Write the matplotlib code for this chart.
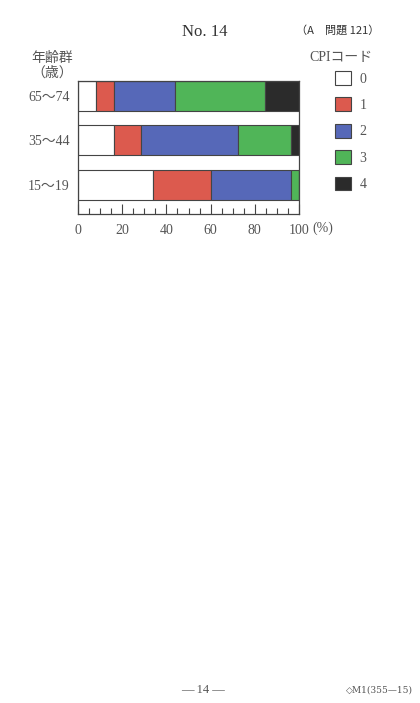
import matplotlib
matplotlib.use("Agg")
import matplotlib.pyplot as plt
from matplotlib.patches import Patch
import numpy as np

plt.rcParams['font.family'] = ['Liberation Serif', 'Noto Sans CJK JP', 'DejaVu Sans']

# -- data ---------------------------------------------------------------------
age_groups = ["15～19", "35～44", "65～74"]
cpi_codes = ["0", "1", "2", "3", "4"]
code_colors = ["#ffffff", "#dc5a4e", "#5668b8", "#50b558", "#2b2b2b"]
# percent share for each CPI code, per age group (same order as age_groups)
share_0 = [34.0, 16.5, 8.0]
share_1 = [26.0, 12.0, 8.5]
share_2 = [36.5, 44.0, 27.5]
share_3 = [3.5, 24.0, 40.5]
share_4 = [0.0, 3.5, 15.5]
x_ticks = [0, 20, 40, 60, 80, 100]

shares = [share_0, share_1, share_2, share_3, share_4]
TXT = "#555555"

fig = plt.figure(figsize=(4.2, 7.03), dpi=100)
ax = fig.add_axes([78 / 420, 1 - 214 / 703, 221 / 420, 133 / 703])

ypos = np.arange(len(age_groups))
left = np.zeros(len(age_groups))
for code, vals, col in zip(cpi_codes, shares, code_colors):
    ax.barh(ypos, vals, left=left, height=0.674, color=col,
            edgecolor="#444444", linewidth=0.8, label=code)
    left += np.array(vals)

ax.set_xlim(0, 100)
ax.set_ylim(-0.652, 2.337)
ax.set_yticks(ypos)
ax.set_yticklabels(age_groups, fontsize=10, color=TXT)
ax.tick_params(axis="y", length=0, pad=6)
ax.set_xticks(x_ticks)
ax.set_xticklabels([str(t) for t in x_ticks], fontsize=10, color=TXT)
ax.set_xticks(np.arange(5, 100, 5), minor=True)
ax.tick_params(axis="x", which="major", direction="in", length=7,
               width=0.8, color="#444444", pad=7)
ax.tick_params(axis="x", which="minor", direction="in", length=4,
               width=0.8, color="#444444")
for s in ax.spines.values():
    s.set_color("#444444")
    s.set_linewidth(0.9)

fig.text(312 / 420, 1 - 228 / 703, "(%)", fontsize=10, color=TXT,
         ha="left", va="center")

# axis caption
fig.text(52 / 420, 1 - 58 / 703, "年齢群", fontsize=10, color=TXT,
         ha="center", va="center")
fig.text(52 / 420, 1 - 73 / 703, "（歳）", fontsize=10, color=TXT,
         ha="center", va="center")

# header
fig.text(205 / 420, 1 - 32 / 703, "No. 14", fontsize=12, color="#333333",
         ha="center", va="center")
fig.text(338 / 420, 1 - 30 / 703, "（A　問題 121）", fontsize=8, color="#333333",
         ha="center", va="center", family=['Noto Sans CJK JP', 'DejaVu Sans'])

# legend
handles = [Patch(facecolor=c, edgecolor="#444444", linewidth=0.8) for c in code_colors]
leg = fig.legend(handles, cpi_codes, loc="upper left",
                 bbox_to_anchor=(335 / 420, 1 - 71 / 703),
                 frameon=False, fontsize=10, handlelength=1.15,
                 handleheight=1.15, labelspacing=0.85, handletextpad=0.6,
                 borderaxespad=0, borderpad=0)
for t in leg.get_texts():
    t.set_color(TXT)
fig.text(341 / 420, 1 - 58 / 703, "CPIコード", fontsize=10, color=TXT,
         ha="center", va="center")

# footer
fig.text(203 / 420, 1 - 690 / 703, "— 14 —", fontsize=9, color=TXT,
         ha="center", va="center")
fig.text(413 / 420, 1 - 690 / 703, "◇M1(355—15)", fontsize=6.5, color=TXT,
         ha="right", va="center", family=['DejaVu Serif', 'Noto Sans CJK JP'])

fig.savefig("out.png", dpi=100, facecolor="white")
